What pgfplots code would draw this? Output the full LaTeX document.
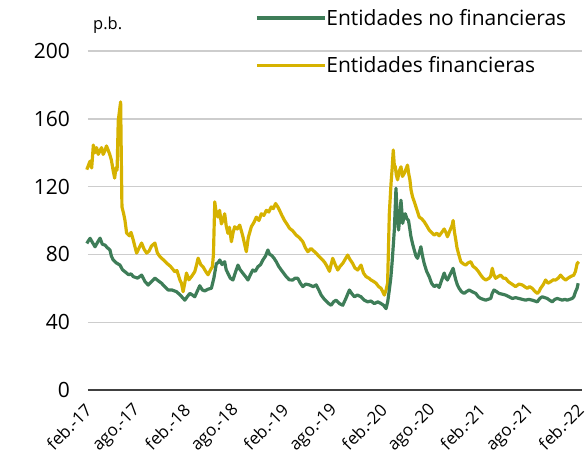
\documentclass[border=0pt]{standalone}
\usepackage{fontspec}
\setmainfont{Open Sans}
\usepackage{pgfplots}
\pgfplotsset{compat=1.18}
\definecolor{cgreen}{RGB}{62,125,88}
\definecolor{cyellow}{RGB}{214,178,0}
\definecolor{cgrid}{RGB}{205,205,205}
\begin{document}
\begin{tikzpicture}
\path[use as bounding box] (0,0) rectangle (585bp,-473bp);
\begin{axis}[
  scale only axis,
  width=494bp, height=339bp,
  at={(88bp,-390bp)}, anchor=south west,
  xmin=0.75, xmax=61, ymin=0, ymax=200,
  axis x line*=bottom,
  axis y line*=left,
  y axis line style={draw=none},
  x axis line style={draw=black!75, line width=1.2pt, -},
  xtick={1,7,13,19,25,31,37,43,49,55,61},
  xticklabels={feb.-17,ago.-17,feb.-18,ago.-18,feb.-19,ago.-19,feb.-20,ago.-20,feb.-21,ago.-21,feb.-22},
  x tick label style={rotate=45, anchor=east, font=\fontsize{17bp}{17bp}\selectfont, inner sep=0bp, xshift=-2bp},
  xticklabel shift=16bp,
  major tick length=0pt,
  ytick={0,40,80,120,160,200},
  ymajorgrids, grid style={cgrid, line width=1.4pt},
  y tick label style={font=\fontsize{21bp}{21bp}\selectfont, anchor=east, inner sep=0pt},
  yticklabel shift=18bp,
  /pgf/number format/assume math mode=true,
  clip=false,
  legend style={at={(rel axis cs:0.338,1.124)}, anchor=north west, draw=none, fill=none,
    font=\fontsize{21bp}{21bp}\selectfont, row sep=30bp, inner sep=0pt,
    nodes={inner sep=0pt},
    /tikz/every even column/.append style={column sep=7bp}},
  legend cell align=left,
  legend image code/.code={\draw[#1, line width=3.2pt] (0bp,0bp) -- (68bp,0bp);},
]
\draw[cgrid, line width=1.4pt] (rel axis cs:0,1) -- (rel axis cs:1,1);
\addlegendimage{cgreen}
\addlegendentry{Entidades no financieras}
\addlegendimage{cyellow}
\addlegendentry{Entidades financieras}
\addplot[cyellow, line width=3.2pt, line join=round, forget plot] coordinates {
(0.6,130) (1.0,135) (1.2,131) (1.4,144.5) (1.6,140) (1.8,143) (2.0,139) (2.2,141) (2.4,143) (2.6,139) (2.8,141) (3.0,144) (3.2,141.6) (3.4,139) (3.6,135.7) (3.8,130) (4.0,125) (4.15,131) (4.3,129.8) (4.44,159) (4.73,170) (4.81,137.6) (4.89,108) (5.1,104) (5.26,100) (5.46,92.6) (5.8,91) (6.0,93) (6.27,88.5) (6.45,85) (6.68,80.8) (7.0,84) (7.29,86.7) (7.6,83) (7.9,80.8) (8.2,82) (8.5,85) (8.91,86.7) (9.2,81) (9.52,78.7) (9.9,77) (10.33,74.9) (10.8,73) (11.34,69.8) (11.6,70.5) (11.95,65) (12.15,63) (12.35,58) (12.55,63) (12.76,69) (13.05,65) (13.37,66.9) (13.77,69.8) (14.0,74) (14.18,77.8) (14.5,74) (14.78,72.7) (15.1,70) (15.39,68) (15.7,71) (15.92,72.7) (16.05,80) (16.21,111) (16.4,104) (16.61,102) (16.8,106) (17.02,98) (17.2,100) (17.42,104) (17.6,97) (17.82,92.4) (18.0,96) (18.24,87.5) (18.45,93) (18.64,96.3) (18.95,95) (19.25,97.3) (19.45,94) (19.65,90.4) (19.85,86) (20.06,81.6) (20.3,90) (20.67,96.3) (21.0,99) (21.28,102) (21.6,100) (21.89,104) (22.2,103) (22.50,106) (22.8,105) (23.10,108) (23.35,107) (23.63,110) (23.9,108) (24.11,106) (24.4,103) (24.72,100) (25.0,98) (25.33,95.4) (25.7,94) (26.14,91.4) (26.5,90) (26.95,87.5) (27.25,84) (27.56,81.6) (27.95,83.5) (28.37,81.6) (28.7,80) (28.98,78.6) (29.3,77) (29.59,75.5) (29.9,73) (30.2,70) (30.4,74) (30.6,77.7) (30.9,74) (31.21,70.8) (31.5,73) (31.82,74.7) (32.1,77) (32.42,79.6) (32.7,77) (33.03,74.7) (33.3,72) (33.64,70.8) (34.05,73.7) (34.35,69) (34.66,66.9) (35.0,66) (35.27,64.9) (35.6,64) (35.88,63) (36.2,61) (36.49,60) (36.7,58) (36.89,56) (37.1,59) (37.29,63) (37.5,104) (37.71,122) (37.85,131) (37.98,141.6) (38.1,133) (38.23,131.7) (38.35,127) (38.51,124) (38.7,129) (38.92,131.7) (39.1,126) (39.32,127.8) (39.5,130) (39.72,132.7) (39.85,128) (40.01,124) (40.15,118) (40.33,114) (40.55,111) (40.75,108) (40.95,105) (41.15,102) (41.45,101) (41.75,99.3) (42.05,97) (42.36,94.4) (42.65,93) (42.97,91.4) (43.3,92.5) (43.58,91) (43.9,93) (44.19,95) (44.4,93) (44.59,90.4) (44.8,93) (45.0,95.4) (45.15,97) (45.28,100) (45.45,93) (45.61,88.5) (45.75,84) (45.93,80.6) (46.22,75.7) (46.5,74.5) (46.83,73.7) (47.1,75) (47.44,75.7) (47.7,73) (48.04,71.8) (48.35,70) (48.65,67.8) (48.95,66) (49.26,64.9) (49.66,65.9) (49.85,67) (50.06,71.8) (50.25,68) (50.47,65.9) (50.8,67) (51.08,67.8) (51.4,66) (51.69,65.9) (52.0,64) (52.29,63) (52.6,62) (52.90,61) (53.3,62.5) (53.71,62) (54.0,61) (54.32,60) (54.6,61) (54.93,60) (55.2,58.5) (55.54,57) (55.75,58) (55.95,60) (56.25,62) (56.56,64.9) (56.85,63) (57.17,63.9) (57.5,65) (57.78,64.9) (58.1,66) (58.39,67.8) (58.7,66) (59.0,64.9) (59.3,66) (59.6,66.9) (60.0,67.8) (60.2,70) (60.41,74.7) (60.61,75.7)
};
\addplot[cgreen, line width=3.2pt, line join=round, forget plot] coordinates {
(0.6,86.5) (0.8,88) (1.0,89.5) (1.3,87) (1.61,84.5) (1.9,87) (2.22,89.6) (2.5,86) (2.82,85.5) (3.1,84) (3.43,82.6) (3.6,79) (3.83,76.7) (4.2,75) (4.65,73.7) (4.95,71) (5.26,69.8) (5.7,68) (6.0,68.5) (6.27,66.9) (6.8,66) (7.29,67.8) (7.7,64) (8.09,61.9) (8.5,64) (8.91,66) (9.3,64.5) (9.72,63) (10.1,61) (10.53,59) (11.0,59) (11.55,58) (12.0,56) (12.56,53) (12.85,55) (13.17,57) (13.5,56) (13.77,55) (14.05,58) (14.38,61.5) (14.7,59) (14.99,58.5) (15.4,59.5) (15.8,60) (16.1,66) (16.41,74.7) (16.6,75) (16.82,76.7) (17.1,74) (17.42,75.7) (17.6,71) (17.82,68.8) (18.1,66) (18.43,64.9) (18.7,69) (19.04,73.7) (19.3,71) (19.65,68.8) (19.95,67) (20.26,64.9) (20.55,68) (20.85,70.8) (21.15,70) (21.47,72.7) (21.8,74) (22.08,76.7) (22.4,79) (22.69,82.6) (22.9,80) (23.10,79.6) (23.4,78) (23.71,75.7) (24.0,73) (24.32,70.8) (24.6,69) (24.93,66.9) (25.3,65) (25.73,64.9) (26.0,66) (26.34,65.9) (26.65,63) (26.95,61) (27.3,62.5) (27.76,62) (28.2,61) (28.58,62) (28.9,59) (29.19,56) (29.5,54) (29.78,52.5) (30.1,51) (30.4,50) (30.7,52) (31.01,53) (31.4,51) (31.82,50) (32.2,54) (32.63,59) (32.9,57) (33.24,55) (33.6,56) (34.05,55) (34.45,53) (34.86,52) (35.25,52.5) (35.67,51) (36.1,52) (36.49,51) (36.8,50) (37.1,48) (37.3,52) (37.5,59) (37.68,66) (37.83,74.7) (37.98,85) (38.11,94.4) (38.2,105) (38.31,119) (38.45,104) (38.63,94.4) (38.8,103) (38.92,112) (39.02,106) (39.12,98.3) (39.3,102) (39.44,104) (39.65,101) (39.84,100) (40.0,95) (40.14,90.4) (40.35,86) (40.54,82.6) (40.75,79) (40.94,77.7) (41.15,81) (41.35,84.5) (41.55,79) (41.75,74.7) (42.05,70) (42.36,66.9) (42.65,63) (42.97,61) (43.3,62) (43.58,60.5) (43.9,65) (44.19,69) (44.4,66) (44.59,64.9) (44.9,68) (45.28,71.8) (45.45,68) (45.61,64.9) (45.8,62) (46.01,60) (46.3,58) (46.62,57) (46.9,58) (47.23,59) (47.6,58) (48.04,57) (48.35,55) (48.65,54) (48.95,53.5) (49.26,53) (49.55,53.5) (49.87,54) (50.05,57) (50.27,59) (50.6,58) (50.88,57) (51.3,56.5) (51.69,56) (52.1,55) (52.5,54) (52.9,54.5) (53.31,54) (53.7,53.5) (54.12,53) (54.5,53.5) (54.93,53) (55.25,52.5) (55.54,52) (55.85,54) (56.15,55) (56.45,54.5) (56.76,54) (57.05,53) (57.37,52) (57.7,53.5) (57.98,54) (58.3,53.5) (58.59,53) (58.9,53.5) (59.2,53) (59.5,53.5) (59.81,54) (60.0,55) (60.21,58) (60.4,60) (60.53,63)
};
\node[anchor=base west, font=\fontsize{16.5bp}{16.5bp}\selectfont, inner sep=0pt] at ([xshift=5bp, yshift=22bp]rel axis cs:0,1) {p.b.};
\end{axis}
\end{tikzpicture}
\end{document}
